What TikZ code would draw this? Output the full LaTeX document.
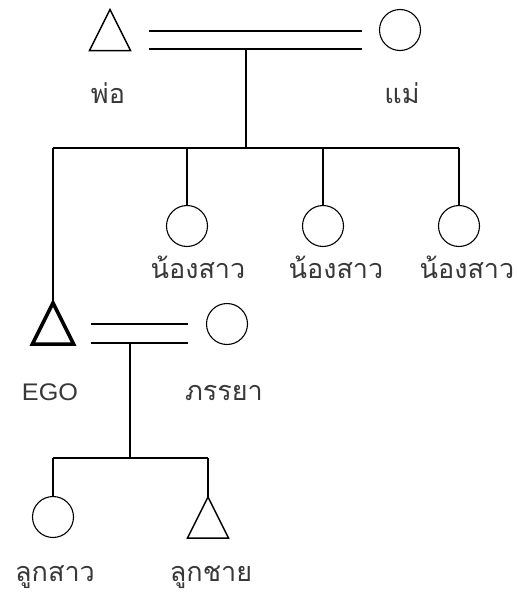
\documentclass[tikz,border=0pt]{standalone}
\usepackage{fontspec}
\usetikzlibrary{calc}
\newfontfamily\thaifont[Script=Thai]{Loma}
\newfontfamily\latinfont[FakeStretch=1.05]{Liberation Sans}
\begin{document}
\begin{tikzpicture}[x=1pt,y=-1pt,line width=1.1pt,
  tri/.style={rectangle,minimum width=40pt,minimum height=40pt,inner sep=0pt},
  circ/.style={circle,draw,minimum size=41pt,inner sep=0pt},
  lbl/.style={font=\thaifont\fontsize{27pt}{30pt}\selectfont,text=black!78,inner sep=0pt,anchor=base},
  elbl/.style={font=\latinfont\fontsize{24pt}{28pt}\selectfont,text=black!78,inner sep=0pt,anchor=base}]
\useasboundingbox (0,0) rectangle (517,597);
% people
\node[tri] (fa) at (110,30) {};
\draw[line width=1.4pt,line join=miter] (fa.south west) -- (fa.north) -- (fa.south east) -- cycle;
\node[circ] (mo) at (400,30) {};
\node[circ] (s1) at (187,226) {};
\node[circ] (s2) at (323,226) {};
\node[circ] (s3) at (459,226) {};
\node[tri] (ego) at (53,323.5) {};
\draw[line width=3.6pt,line join=miter] (ego.south west) -- (ego.north) -- (ego.south east) -- cycle;
\node[circ] (wi) at (227,324) {};
\node[circ] (da) at (53,517) {};
\node[tri] (so) at (208,517.5) {};
\draw[line width=1.4pt,line join=miter] (so.south west) -- (so.north) -- (so.south east) -- cycle;
% labels
\node[lbl] (lfa) at (108,103) {พ่อ};
\node[lbl] (lmo) at (402,103) {แม่};
\node[lbl] (ls1) at (198,278) {น้องสาว};
\node[lbl] (ls2) at (336,278) {น้องสาว};
\node[lbl] (ls3) at (467,278) {น้องสาว};
\node[elbl] (lego) at (50,400) {EGO};
\node[lbl] (lwi) at (224,400) {ภรรยา};
\node[lbl] (lda) at (55,581) {ลูกสาว};
\node[lbl] (lso) at (211,581) {ลูกชาย};
% marriage of parents
\draw ($(fa.east)+(18,1)$) -- ($(mo.west)+(-17,1)$);
\draw ($(fa.east)+(18,19)$) -- ($(mo.west)+(-17,19)$);
\coordinate (d1) at (246,49);
\coordinate (b0) at (246,148);
\coordinate (b1) at (53,148);
\coordinate (b4) at (459,148);
\draw (d1) -- (b0);
\draw (b1) -- (b4);
\draw (b1) -- (ego.north);
\draw (s1 |- b1) -- (s1.north);
\draw (s2 |- b1) -- (s2.north);
\draw (s3 |- b1) -- (s3.north);
% marriage of ego
\draw ($(ego.east)+(17,0.5)$) -- ($(wi.west)+(-18,0)$);
\draw ($(ego.east)+(17,19.5)$) -- ($(wi.west)+(-18,19)$);
\coordinate (d2) at (130,343);
\coordinate (c0) at (130,458);
\coordinate (c1) at (53,458);
\coordinate (c2) at (208,458);
\draw (d2) -- (c0);
\draw (c1) -- (c2);
\draw (c1) -- (da.north);
\draw (c2) -- (so.north);
\end{tikzpicture}
\end{document}
